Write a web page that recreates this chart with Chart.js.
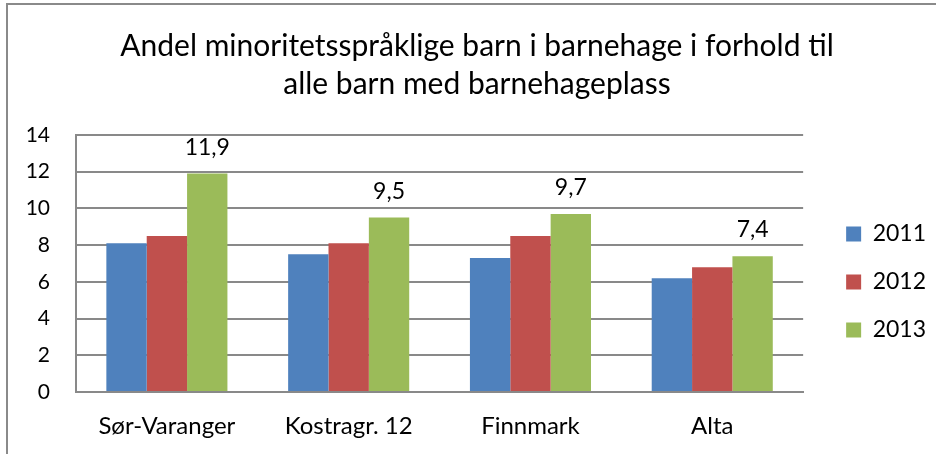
<!DOCTYPE html>
<html>
<head>
<meta charset="utf-8">
<script src="https://cdn.jsdelivr.net/npm/chart.js@4.4.0/dist/chart.umd.min.js"></script>
<style>
    html, body { margin: 0; padding: 0; background: #fff; }
    canvas { display: block; }
</style>
</head>
<body>
<canvas id="grafikk" width="936" height="454"></canvas>
<script>
// Data
const kategorier = ['Sør-Varanger', 'Kostragr. 12', 'Finnmark', 'Alta'];
const aar = ['2011', '2012', '2013'];
const verdier2011 = [8.1, 7.5, 7.3, 6.2];
const verdier2012 = [8.5, 8.1, 8.5, 6.8];
const verdier2013 = [11.9, 9.5, 9.7, 7.4];
const yTicks = [0, 2, 4, 6, 8, 10, 12, 14];
const tittel = ['Andel minoritetsspråklige barn i barnehage i forhold til', 'alle barn med barnehageplass'];

const farger = ['#4F81BD', '#C0504D', '#9BBB59'];
const gridFarge = '#898989';
const font = 'Lato';

// hvit bakgrunn + ramme
const ramme = {
    id: 'ramme',
    beforeDraw(chart) {
        const ctx = chart.ctx;
        ctx.save();
        ctx.fillStyle = '#fff';
        ctx.fillRect(0, 0, chart.width, chart.height);
        ctx.strokeStyle = '#8a8a8a';
        ctx.lineWidth = 2;
        ctx.strokeRect(7, 4, chart.width + 20, chart.height + 20);
        ctx.restore();
    }
};

// verdier over 2013-stolpene
const verdiEtiketter = {
    id: 'verdiEtiketter',
    afterDatasetsDraw(chart) {
        const ctx = chart.ctx;
        const meta = chart.getDatasetMeta(2);
        ctx.save();
        ctx.font = '23px ' + font;
        ctx.fillStyle = '#000';
        ctx.textAlign = 'center';
        ctx.textBaseline = 'alphabetic';
        meta.data.forEach((bar, i) => {
            const v = chart.data.datasets[2].data[i];
            ctx.fillText(v.toFixed(1).replace('.', ','), bar.x, bar.y - 19);
        });
        ctx.restore();
    }
};

const ctx = document.getElementById('grafikk').getContext('2d');
new Chart(ctx, {
    type: 'bar',
    data: {
        labels: kategorier,
        datasets: [
            { label: aar[0], data: verdier2011, backgroundColor: farger[0] },
            { label: aar[1], data: verdier2012, backgroundColor: farger[1] },
            { label: aar[2], data: verdier2013, backgroundColor: farger[2] }
        ]
    },
    options: {
        responsive: false,
        animation: false,
        events: [],
        categoryPercentage: 0.666,
        barPercentage: 1.0,
        layout: { padding: { left: 18, right: 0, top: 0, bottom: 0 } },
        scales: {
            x: {
                grid: { display: false },
                border: { display: true, color: gridFarge, width: 2 },
                ticks: { color: '#000', font: { family: font, size: 24 }, padding: 12, maxRotation: 0 },
                afterFit(s) { s.height = 62; }
            },
            y: {
                min: yTicks[0],
                max: yTicks[yTicks.length - 1],
                afterBuildTicks(s) { s.ticks = yTicks.map(v => ({ value: v })); },
                grid: { color: gridFarge, lineWidth: 2, drawTicks: false },
                border: { display: true, color: gridFarge, width: 2 },
                ticks: { color: '#000', font: { family: font, size: 21 }, padding: 26 },
                afterFit(s) { s.width = 58; }
            },
            mellomrom: {
                type: 'linear',
                position: 'right',
                grid: { display: false },
                border: { display: false },
                ticks: { display: false },
                afterFit(s) { s.width = 18; }
            }
        },
        plugins: {
            title: {
                display: true,
                text: tittel,
                color: '#000',
                font: { family: font, size: 30, weight: 'normal', lineHeight: 38 / 30 },
                padding: { top: 27, bottom: 32 }
            },
            legend: {
                position: 'right',
                title: { display: true, text: '', font: { size: 1, lineHeight: 1 }, padding: { top: 109, bottom: 0 } },
                labels: {
                    color: '#000',
                    font: { family: font, size: 23 },
                    boxWidth: 15,
                    boxHeight: 15,
                    padding: 25
                }
            },
            tooltip: { enabled: false }
        }
    },
    plugins: [ramme, verdiEtiketter]
});
</script>
</body>
</html>
